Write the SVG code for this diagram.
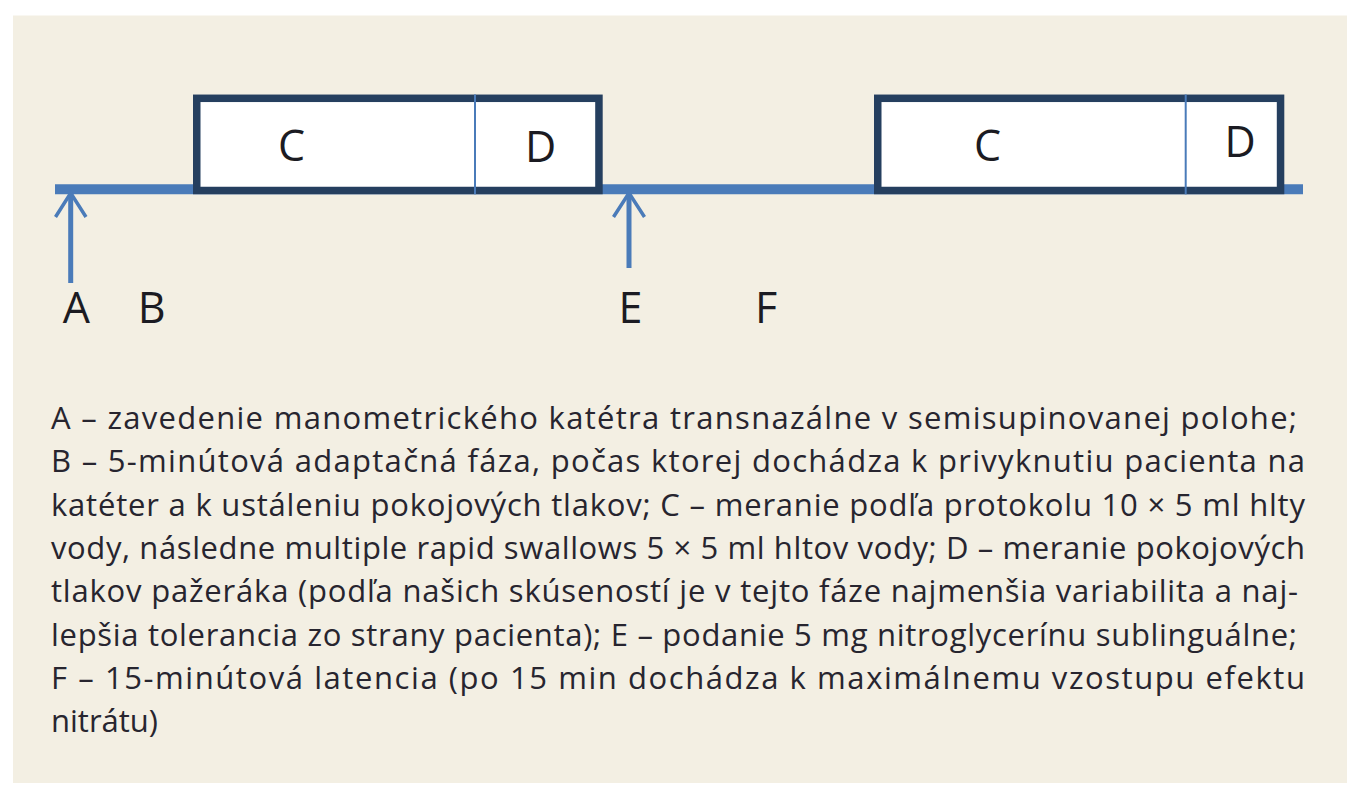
<svg xmlns="http://www.w3.org/2000/svg" width="1366" height="800" viewBox="0 0 1366 800">
  <defs>
    <style>
      .panel { fill: #f3efe3; }
      .timeline { stroke: #4a7bb9; stroke-width: 10; fill: none; }
      .box { fill: #ffffff; stroke: #253f5f; stroke-width: 7.5; }
      .divider { stroke: #4a7bb9; stroke-width: 2; }
      .arrow { stroke: #4a7bb9; fill: none; }
      .shaft { stroke-width: 5; }
      .head { stroke-width: 3.5; stroke-linecap: butt; stroke-linejoin: miter; }
      .lbl { font-family: "Open Sans", "Liberation Sans", sans-serif; font-size: 43px; fill: #1b1b22; text-anchor: middle; }
      .para { font-family: "Open Sans", "Liberation Sans", sans-serif; font-size: 31px; fill: #27252f; }
    </style>
  </defs>

  <rect width="1366" height="800" fill="#ffffff"/>
  <rect class="panel" x="13" y="15.5" width="1334" height="767.5"/>

  <g id="connectors">
    <line class="timeline" x1="55" y1="189.3" x2="1303" y2="189.3"/>
    <g id="arrow-A" class="arrow">
      <line class="shaft" x1="70.7" y1="194" x2="70.7" y2="283"/>
      <polyline class="head" points="55.5,217 70.7,193 86,217"/>
    </g>
    <g id="arrow-E" class="arrow">
      <line class="shaft" x1="629" y1="194" x2="629" y2="268"/>
      <polyline class="head" points="613.5,217 629,193 644.5,217"/>
    </g>
  </g>

  <g id="box1">
    <rect class="box" x="196.75" y="98.3" width="402.2" height="92.2"/>
    <line class="divider" x1="475" y1="94.5" x2="475" y2="194.3"/>
    <text class="lbl" x="291.5" y="160.5">C</text>
    <text class="lbl" x="540.5" y="162">D</text>
  </g>

  <g id="box2">
    <rect class="box" x="877.75" y="98.3" width="402.8" height="92.2"/>
    <line class="divider" x1="1185.7" y1="94.5" x2="1185.7" y2="194.3"/>
    <text class="lbl" x="987.5" y="160.5">C</text>
    <text class="lbl" x="1240" y="157.3">D</text>
  </g>

  <g id="label-A"><text class="lbl" x="76.3" y="323.3">A</text></g>
  <g id="label-B"><text class="lbl" x="151.7" y="323.3">B</text></g>
  <g id="label-E"><text class="lbl" x="630.5" y="323.3">E</text></g>
  <g id="label-F"><text class="lbl" x="766" y="323.3">F</text></g>

  <g id="legend" class="para">
    <text x="51" y="429" textLength="1246" lengthAdjust="spacing">A – zavedenie manometrického katétra transnazálne v semisupinovanej polohe;</text>
    <text x="51" y="472.3" textLength="1254" lengthAdjust="spacing">B – 5-minútová adaptačná fáza, počas ktorej dochádza k privyknutiu pacienta na</text>
    <text x="51" y="515.6" textLength="1254" lengthAdjust="spacing">katéter a k ustáleniu pokojových tlakov; C – meranie podľa protokolu 10 × 5 ml hlty</text>
    <text x="51" y="558.9" textLength="1254" lengthAdjust="spacing">vody, následne multiple rapid swallows 5 × 5 ml hltov vody; D – meranie pokojových</text>
    <text x="51" y="602.2" textLength="1247" lengthAdjust="spacing">tlakov pažeráka (podľa našich skúseností je v tejto fáze najmenšia variabilita a naj-</text>
    <text x="51" y="645.5" textLength="1246" lengthAdjust="spacing">lepšia tolerancia zo strany pacienta); E – podanie 5 mg nitroglycerínu sublinguálne;</text>
    <text x="51" y="688.8" textLength="1254" lengthAdjust="spacing">F – 15-minútová latencia (po 15 min dochádza k maximálnemu vzostupu efektu</text>
    <text x="51" y="732.1">nitrátu)</text>
  </g>
</svg>
